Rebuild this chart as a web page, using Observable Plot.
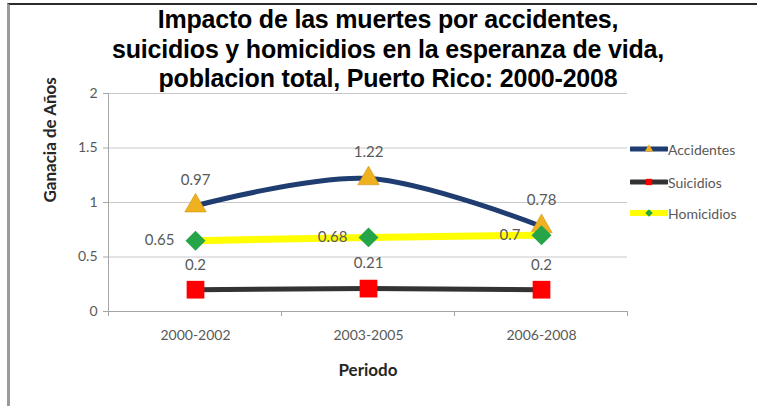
<!DOCTYPE html>
<html><head><meta charset="utf-8">
<script src="https://cdn.jsdelivr.net/npm/d3@7"></script>
<script src="https://cdn.jsdelivr.net/npm/@observablehq/plot@0.6"></script>
<style>
body{margin:0;background:#fff;}
#wrap{position:relative;width:757px;height:406px;overflow:hidden;font-family:Lato,sans-serif;background:#fff;}
#border{position:absolute;left:7px;top:3px;right:-5px;bottom:-5px;border-top:2px solid #2b2b2b;border-left:3px solid #9a9a9a;pointer-events:none;}
#chart{position:absolute;left:0;top:0;}
#title{position:absolute;left:0;width:776px;top:5px;text-align:center;font:bold 25px/29.5px "Liberation Sans",Arial,sans-serif;color:#000;letter-spacing:-0.2px;}
#legend{position:absolute;left:630px;top:0;}
.item{position:absolute;left:0;display:flex;align-items:center;white-space:nowrap;font:14px Lato,sans-serif;color:#595959;}
.item svg{display:block;}
</style></head>
<body>
<div id="wrap">
  <div id="chart"></div>
  <div id="title">Impacto de las muertes por accidentes,<br>suicidios y homicidios en la esperanza de vida,<br>poblacion total, Puerto Rico: 2000-2008</div>
  <div id="legend"></div>
  <div id="border"></div>
</div>
<script>
const categories = ["2000-2002", "2003-2005", "2006-2008"];
const seriesNames = ["Accidentes", "Suicidios", "Homicidios"];
const accidentes = [0.97, 1.22, 0.78];
const suicidios = [0.2, 0.21, 0.2];
const homicidios = [0.65, 0.68, 0.7];
const yTicks = [0, 0.5, 1, 1.5, 2];
const yLabel = "Ganacia de Años";
const xLabel = "Periodo";

const lineColors = {Accidentes: "#1f3d70", Suicidios: "#333333", Homicidios: "#ffff00"};
const markColors = {Accidentes: "#efb120", Suicidios: "#ff0000", Homicidios: "#25a548"};
const symbols = {Accidentes: "triangle", Suicidios: "square", Homicidios: "diamond2"};

const rows = (name, vals) => categories.map((c, i) => ({periodo: c, serie: name, valor: vals[i]}));
const dA = rows("Accidentes", accidentes);
const dS = rows("Suicidios", suicidios);
const dH = rows("Homicidios", homicidios);

const labelStyle = {fill: "#595959", fontSize: 15, text: d => String(d.valor)};

function boundaryTicks(index, scales, values, dimensions) {
  const x = scales.x;
  const pos = categories.map(c => x(c));
  const step = pos[1] - pos[0];
  const b = pos.map(p => p - step / 2).concat([pos[pos.length - 1] + step / 2]);
  const y0 = dimensions.height - dimensions.marginBottom;
  const g = d3.create("svg:g");
  g.selectAll("line").data(b).join("line")
    .attr("x1", d => d).attr("x2", d => d)
    .attr("y1", y0).attr("y2", y0 + 5)
    .attr("stroke", "#a6a6a6");
  return g.node();
}

const plot = Plot.plot({
  width: 757, height: 406,
  marginLeft: 108, marginRight: 130, marginTop: 93, marginBottom: 95,
  style: {fontFamily: "Lato, sans-serif", background: "transparent"},
  x: {type: "point", domain: categories, padding: 0.5, label: null},
  y: {domain: [0, 2], ticks: yTicks, label: null},
  marks: [
    Plot.gridY(yTicks, {stroke: "#c8c8c8", strokeOpacity: 1}),
    Plot.frame({anchor: "left", stroke: "#a6a6a6"}),
    Plot.frame({anchor: "bottom", stroke: "#a6a6a6"}),
    Plot.axisY(yTicks, {tickSize: 5, tickPadding: 6, stroke: "#a6a6a6", color: "#595959", fontSize: 14, label: null, tickFormat: d => String(d)}),
    Plot.axisX({tickSize: 0, tickPadding: 19, color: "#595959", fontSize: 14, label: null}),
    boundaryTicks,
    Plot.text([yLabel], {frameAnchor: "left", rotate: -90, dx: -58, fontWeight: "bold", fontSize: 17, fill: "#262626"}),
    Plot.text([xLabel], {frameAnchor: "bottom", dy: 64, fontWeight: "bold", fontSize: 17, fill: "#262626"}),
    // Accidentes
    Plot.line(dA, {x: "periodo", y: "valor", stroke: lineColors.Accidentes, strokeWidth: 5, curve: "catmull-rom"}),
    Plot.dot(dA, {x: "periodo", y: "valor", symbol: symbols.Accidentes, r: 8, fill: markColors.Accidentes, stroke: "#c98f10", strokeWidth: 0.5}),
    // Suicidios
    Plot.line(dS, {x: "periodo", y: "valor", stroke: lineColors.Suicidios, strokeWidth: 5}),
    Plot.dot(dS, {x: "periodo", y: "valor", symbol: symbols.Suicidios, r: 10, fill: markColors.Suicidios}),
    // Homicidios
    Plot.line(dH, {x: "periodo", y: "valor", stroke: lineColors.Homicidios, strokeWidth: 7}),
    Plot.dot(dH, {x: "periodo", y: "valor", symbol: symbols.Homicidios, r: 9, fill: markColors.Homicidios}),
    // labels
    Plot.text(dA, {x: "periodo", y: "valor", dy: -26, ...labelStyle}),
    Plot.text(dS, {x: "periodo", y: "valor", dy: -25, ...labelStyle}),
    Plot.text(dH, {x: "periodo", y: "valor", dx: -21, textAnchor: "end", ...labelStyle})
  ]
});
document.getElementById("chart").appendChild(plot);

// Legend
const legendY = {Accidentes: 149, Suicidios: 182, Homicidios: 213};
const legend = d3.select("#legend");
const symPath = {
  Accidentes: d3.symbol(d3.symbolTriangle, 30)(),
  Suicidios: d3.symbol(d3.symbolSquare, 40)(),
  Homicidios: d3.symbol(d3.symbolDiamond2, 36)()
};
for (const s of seriesNames) {
  const item = legend.append("div").attr("class", "item").style("top", (legendY[s] - 9) + "px");
  const svg = item.append("svg").attr("width", 38).attr("height", 18);
  svg.append("line").attr("x1", 1).attr("x2", 37).attr("y1", 9).attr("y2", 9)
    .attr("stroke", lineColors[s]).attr("stroke-width", s === "Homicidios" ? 6 : 5).attr("stroke-linecap", "round");
  svg.append("path").attr("d", symPath[s]).attr("transform", "translate(19,9)").attr("fill", markColors[s]);
  item.append("span").text(s);
}
</script>
</body></html>
